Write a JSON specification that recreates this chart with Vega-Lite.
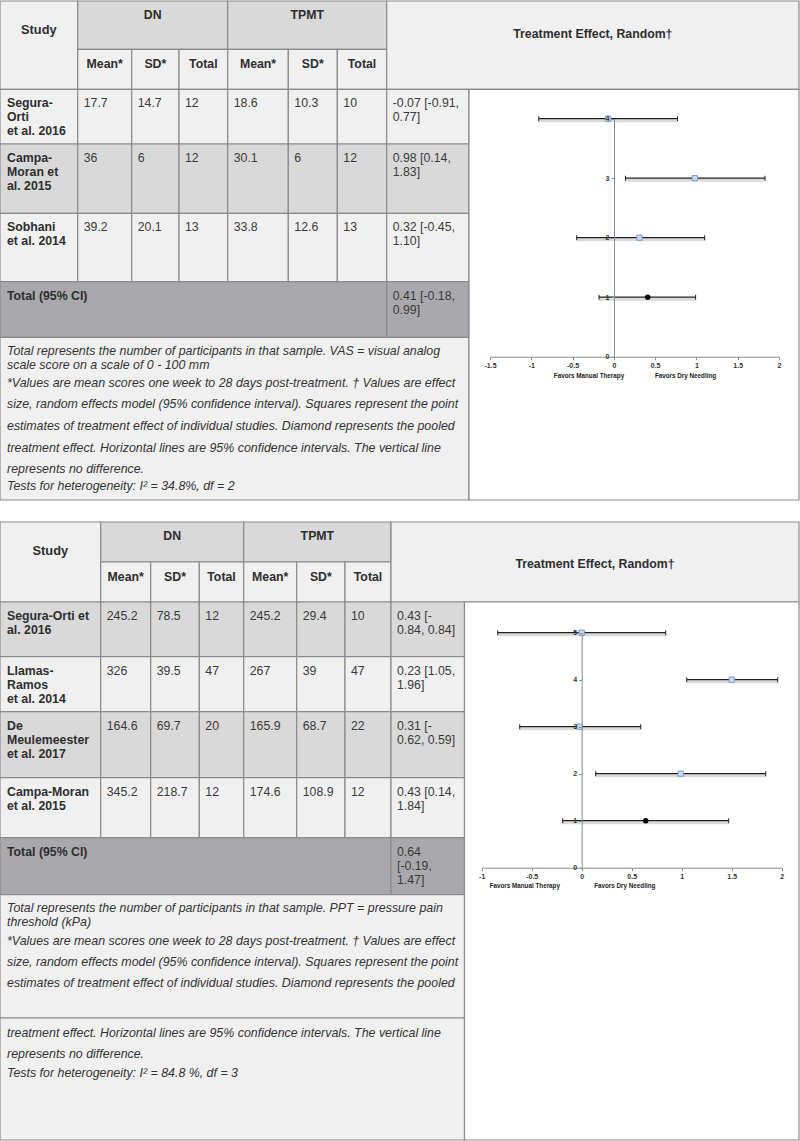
{
  "$schema": "https://vega.github.io/schema/vega-lite/v6.json",
  "width": 800,
  "height": 1141,
  "autosize": "none",
  "padding": 0,
  "background": "#ffffff",
  "config": {"view": {"stroke": null}, "font": "Liberation Sans", "text": {"font": "Liberation Sans", "fontSize": 12, "color": "#333333"}},
  "datasets": {
    "cells": [
      {"c0":0,"c1":1,"r0":0,"r1":2,"k":"light"},
      {"c0":1,"c1":4,"r0":0,"r1":1,"k":"mid"},
      {"c0":4,"c1":7,"r0":0,"r1":1,"k":"mid"},
      {"c0":1,"c1":2,"r0":1,"r1":2,"k":"light"},
      {"c0":2,"c1":3,"r0":1,"r1":2,"k":"light"},
      {"c0":3,"c1":4,"r0":1,"r1":2,"k":"light"},
      {"c0":4,"c1":5,"r0":1,"r1":2,"k":"light"},
      {"c0":5,"c1":6,"r0":1,"r1":2,"k":"light"},
      {"c0":6,"c1":7,"r0":1,"r1":2,"k":"light"},
      {"c0":7,"c1":9,"r0":0,"r1":2,"k":"light"},
      {"c0":0,"c1":1,"r0":2,"r1":3,"k":"light"},
      {"c0":1,"c1":2,"r0":2,"r1":3,"k":"light"},
      {"c0":2,"c1":3,"r0":2,"r1":3,"k":"light"},
      {"c0":3,"c1":4,"r0":2,"r1":3,"k":"light"},
      {"c0":4,"c1":5,"r0":2,"r1":3,"k":"light"},
      {"c0":5,"c1":6,"r0":2,"r1":3,"k":"light"},
      {"c0":6,"c1":7,"r0":2,"r1":3,"k":"light"},
      {"c0":7,"c1":8,"r0":2,"r1":3,"k":"light"},
      {"c0":0,"c1":1,"r0":3,"r1":4,"k":"mid"},
      {"c0":1,"c1":2,"r0":3,"r1":4,"k":"mid"},
      {"c0":2,"c1":3,"r0":3,"r1":4,"k":"mid"},
      {"c0":3,"c1":4,"r0":3,"r1":4,"k":"mid"},
      {"c0":4,"c1":5,"r0":3,"r1":4,"k":"mid"},
      {"c0":5,"c1":6,"r0":3,"r1":4,"k":"mid"},
      {"c0":6,"c1":7,"r0":3,"r1":4,"k":"mid"},
      {"c0":7,"c1":8,"r0":3,"r1":4,"k":"mid"},
      {"c0":0,"c1":1,"r0":4,"r1":5,"k":"light"},
      {"c0":1,"c1":2,"r0":4,"r1":5,"k":"light"},
      {"c0":2,"c1":3,"r0":4,"r1":5,"k":"light"},
      {"c0":3,"c1":4,"r0":4,"r1":5,"k":"light"},
      {"c0":4,"c1":5,"r0":4,"r1":5,"k":"light"},
      {"c0":5,"c1":6,"r0":4,"r1":5,"k":"light"},
      {"c0":6,"c1":7,"r0":4,"r1":5,"k":"light"},
      {"c0":7,"c1":8,"r0":4,"r1":5,"k":"light"},
      {"c0":0,"c1":7,"r0":5,"r1":6,"k":"dark"},
      {"c0":7,"c1":8,"r0":5,"r1":6,"k":"dark"},
      {"c0":0,"c1":8,"r0":6,"r1":7,"k":"light"},
      {"c0":8,"c1":9,"r0":2,"r1":7,"k":"white"},
      {"c0":10,"c1":11,"r0":10,"r1":12,"k":"light"},
      {"c0":11,"c1":14,"r0":10,"r1":11,"k":"mid"},
      {"c0":14,"c1":17,"r0":10,"r1":11,"k":"mid"},
      {"c0":11,"c1":12,"r0":11,"r1":12,"k":"light"},
      {"c0":12,"c1":13,"r0":11,"r1":12,"k":"light"},
      {"c0":13,"c1":14,"r0":11,"r1":12,"k":"light"},
      {"c0":14,"c1":15,"r0":11,"r1":12,"k":"light"},
      {"c0":15,"c1":16,"r0":11,"r1":12,"k":"light"},
      {"c0":16,"c1":17,"r0":11,"r1":12,"k":"light"},
      {"c0":17,"c1":19,"r0":10,"r1":12,"k":"light"},
      {"c0":10,"c1":11,"r0":12,"r1":13,"k":"mid"},
      {"c0":11,"c1":12,"r0":12,"r1":13,"k":"mid"},
      {"c0":12,"c1":13,"r0":12,"r1":13,"k":"mid"},
      {"c0":13,"c1":14,"r0":12,"r1":13,"k":"mid"},
      {"c0":14,"c1":15,"r0":12,"r1":13,"k":"mid"},
      {"c0":15,"c1":16,"r0":12,"r1":13,"k":"mid"},
      {"c0":16,"c1":17,"r0":12,"r1":13,"k":"mid"},
      {"c0":17,"c1":18,"r0":12,"r1":13,"k":"mid"},
      {"c0":10,"c1":11,"r0":13,"r1":14,"k":"light"},
      {"c0":11,"c1":12,"r0":13,"r1":14,"k":"light"},
      {"c0":12,"c1":13,"r0":13,"r1":14,"k":"light"},
      {"c0":13,"c1":14,"r0":13,"r1":14,"k":"light"},
      {"c0":14,"c1":15,"r0":13,"r1":14,"k":"light"},
      {"c0":15,"c1":16,"r0":13,"r1":14,"k":"light"},
      {"c0":16,"c1":17,"r0":13,"r1":14,"k":"light"},
      {"c0":17,"c1":18,"r0":13,"r1":14,"k":"light"},
      {"c0":10,"c1":11,"r0":14,"r1":15,"k":"mid"},
      {"c0":11,"c1":12,"r0":14,"r1":15,"k":"mid"},
      {"c0":12,"c1":13,"r0":14,"r1":15,"k":"mid"},
      {"c0":13,"c1":14,"r0":14,"r1":15,"k":"mid"},
      {"c0":14,"c1":15,"r0":14,"r1":15,"k":"mid"},
      {"c0":15,"c1":16,"r0":14,"r1":15,"k":"mid"},
      {"c0":16,"c1":17,"r0":14,"r1":15,"k":"mid"},
      {"c0":17,"c1":18,"r0":14,"r1":15,"k":"mid"},
      {"c0":10,"c1":11,"r0":15,"r1":16,"k":"light"},
      {"c0":11,"c1":12,"r0":15,"r1":16,"k":"light"},
      {"c0":12,"c1":13,"r0":15,"r1":16,"k":"light"},
      {"c0":13,"c1":14,"r0":15,"r1":16,"k":"light"},
      {"c0":14,"c1":15,"r0":15,"r1":16,"k":"light"},
      {"c0":15,"c1":16,"r0":15,"r1":16,"k":"light"},
      {"c0":16,"c1":17,"r0":15,"r1":16,"k":"light"},
      {"c0":17,"c1":18,"r0":15,"r1":16,"k":"light"},
      {"c0":10,"c1":17,"r0":16,"r1":17,"k":"dark"},
      {"c0":17,"c1":18,"r0":16,"r1":17,"k":"dark"},
      {"c0":10,"c1":18,"r0":17,"r1":18,"k":"light"},
      {"c0":10,"c1":18,"r0":18,"r1":19,"k":"light"},
      {"c0":18,"c1":19,"r0":12,"r1":19,"k":"white"}
    ],
    "body": [
      {"t":"Segura-\nOrti\net al. 2016","c":0,"r":2,"role":"study"},
      {"t":"17.7","c":1,"r":2,"role":"value"},
      {"t":"14.7","c":2,"r":2,"role":"value"},
      {"t":"12","c":3,"r":2,"role":"value"},
      {"t":"18.6","c":4,"r":2,"role":"value"},
      {"t":"10.3","c":5,"r":2,"role":"value"},
      {"t":"10","c":6,"r":2,"role":"value"},
      {"t":"-0.07 [-0.91,\n0.77]","c":7,"r":2,"role":"value"},
      {"t":"Campa-\nMoran et\nal. 2015","c":0,"r":3,"role":"study"},
      {"t":"36","c":1,"r":3,"role":"value"},
      {"t":"6","c":2,"r":3,"role":"value"},
      {"t":"12","c":3,"r":3,"role":"value"},
      {"t":"30.1","c":4,"r":3,"role":"value"},
      {"t":"6","c":5,"r":3,"role":"value"},
      {"t":"12","c":6,"r":3,"role":"value"},
      {"t":"0.98 [0.14,\n1.83]","c":7,"r":3,"role":"value"},
      {"t":"Sobhani\net al. 2014","c":0,"r":4,"role":"study"},
      {"t":"39.2","c":1,"r":4,"role":"value"},
      {"t":"20.1","c":2,"r":4,"role":"value"},
      {"t":"13","c":3,"r":4,"role":"value"},
      {"t":"33.8","c":4,"r":4,"role":"value"},
      {"t":"12.6","c":5,"r":4,"role":"value"},
      {"t":"13","c":6,"r":4,"role":"value"},
      {"t":"0.32 [-0.45,\n1.10]","c":7,"r":4,"role":"value"},
      {"t":"Total (95% CI)","c":0,"r":5,"role":"study"},
      {"t":"0.41 [-0.18,\n0.99]","c":7,"r":5,"role":"value"},
      {"t":"Segura-Orti et\nal. 2016","c":10,"r":12,"role":"study"},
      {"t":"245.2","c":11,"r":12,"role":"value"},
      {"t":"78.5","c":12,"r":12,"role":"value"},
      {"t":"12","c":13,"r":12,"role":"value"},
      {"t":"245.2","c":14,"r":12,"role":"value"},
      {"t":"29.4","c":15,"r":12,"role":"value"},
      {"t":"10","c":16,"r":12,"role":"value"},
      {"t":"0.43 [-\n0.84, 0.84]","c":17,"r":12,"role":"value"},
      {"t":"Llamas-\nRamos\net al. 2014","c":10,"r":13,"role":"study"},
      {"t":"326","c":11,"r":13,"role":"value"},
      {"t":"39.5","c":12,"r":13,"role":"value"},
      {"t":"47","c":13,"r":13,"role":"value"},
      {"t":"267","c":14,"r":13,"role":"value"},
      {"t":"39","c":15,"r":13,"role":"value"},
      {"t":"47","c":16,"r":13,"role":"value"},
      {"t":"0.23 [1.05,\n1.96]","c":17,"r":13,"role":"value"},
      {"t":"De\nMeulemeester\net al. 2017","c":10,"r":14,"role":"study"},
      {"t":"164.6","c":11,"r":14,"role":"value"},
      {"t":"69.7","c":12,"r":14,"role":"value"},
      {"t":"20","c":13,"r":14,"role":"value"},
      {"t":"165.9","c":14,"r":14,"role":"value"},
      {"t":"68.7","c":15,"r":14,"role":"value"},
      {"t":"22","c":16,"r":14,"role":"value"},
      {"t":"0.31 [-\n0.62, 0.59]","c":17,"r":14,"role":"value"},
      {"t":"Campa-Moran\net al. 2015","c":10,"r":15,"role":"study"},
      {"t":"345.2","c":11,"r":15,"role":"value"},
      {"t":"218.7","c":12,"r":15,"role":"value"},
      {"t":"12","c":13,"r":15,"role":"value"},
      {"t":"174.6","c":14,"r":15,"role":"value"},
      {"t":"108.9","c":15,"r":15,"role":"value"},
      {"t":"12","c":16,"r":15,"role":"value"},
      {"t":"0.43 [0.14,\n1.84]","c":17,"r":15,"role":"value"},
      {"t":"Total (95% CI)","c":10,"r":16,"role":"study"},
      {"t":"0.64\n[-0.19,\n1.47]","c":17,"r":16,"role":"value"}
    ],
    "subs": [
      {"t":"Mean*","c":1,"r":1},{"t":"SD*","c":2,"r":1},{"t":"Total","c":3,"r":1},
      {"t":"Mean*","c":4,"r":1},{"t":"SD*","c":5,"r":1},{"t":"Total","c":6,"r":1},
      {"t":"Mean*","c":11,"r":11},{"t":"SD*","c":12,"r":11},{"t":"Total","c":13,"r":11},
      {"t":"Mean*","c":14,"r":11},{"t":"SD*","c":15,"r":11},{"t":"Total","c":16,"r":11}
    ],
    "heads": [
      {"t":"Study","hc":0,"r":0,"role":"corner"},
      {"t":"DN","hc":1,"r":0,"role":"group"},
      {"t":"TPMT","hc":2,"r":0,"role":"group"},
      {"t":"Treatment Effect, Random†","hc":3,"r":0,"role":"effectTop"},
      {"t":"Study","hc":10,"r":10,"role":"corner"},
      {"t":"DN","hc":11,"r":10,"role":"group"},
      {"t":"TPMT","hc":12,"r":10,"role":"group"},
      {"t":"Treatment Effect, Random†","hc":13,"r":10,"role":"effectBottom"}
    ],
    "notes": [
      {"t":"Total represents the number of participants in that sample. VAS = visual analog","c":0,"ln":0},
      {"t":"scale score on a scale of 0 - 100 mm","c":0,"ln":1},
      {"t":"*Values are mean scores one week to 28 days post-treatment. † Values are effect","c":0,"ln":2},
      {"t":"size, random effects model (95% confidence interval). Squares represent the point","c":0,"ln":3},
      {"t":"estimates of treatment effect of individual studies. Diamond represents the pooled","c":0,"ln":4},
      {"t":"treatment effect. Horizontal lines are 95% confidence intervals. The vertical line","c":0,"ln":5},
      {"t":"represents no difference.","c":0,"ln":6},
      {"t":"Tests for heterogeneity: I² = 34.8%, df = 2","c":0,"ln":7},
      {"t":"Total represents the number of participants in that sample. PPT = pressure pain","c":10,"ln":10},
      {"t":"threshold (kPa)","c":10,"ln":11},
      {"t":"*Values are mean scores one week to 28 days post-treatment. † Values are effect","c":10,"ln":12},
      {"t":"size, random effects model (95% confidence interval). Squares represent the point","c":10,"ln":13},
      {"t":"estimates of treatment effect of individual studies. Diamond represents the pooled","c":10,"ln":14},
      {"t":"treatment effect. Horizontal lines are 95% confidence intervals. The vertical line","c":10,"ln":15},
      {"t":"represents no difference.","c":10,"ln":16},
      {"t":"Tests for heterogeneity: I² = 84.8 %, df = 3","c":10,"ln":17}
    ],
    "forestTop": [
      {"study":"Segura-Orti et al. 2016","pos":4,"es":-0.07,"lo":-0.91,"hi":0.77,"kind":"study"},
      {"study":"Campa-Moran et al. 2015","pos":3,"es":0.98,"lo":0.14,"hi":1.83,"kind":"study"},
      {"study":"Sobhani et al. 2014","pos":2,"es":0.31,"lo":-0.45,"hi":1.10,"kind":"study"},
      {"study":"Total (95% CI)","pos":1,"es":0.41,"lo":-0.18,"hi":0.99,"kind":"pooled"}
    ],
    "forestBottom": [
      {"study":"Segura-Orti et al. 2016","pos":5,"es":0.0,"lo":-0.84,"hi":0.84,"kind":"study"},
      {"study":"Llamas-Ramos et al. 2014","pos":4,"es":1.5,"lo":1.05,"hi":1.96,"kind":"study"},
      {"study":"De Meulemeester et al. 2017","pos":3,"es":-0.02,"lo":-0.62,"hi":0.59,"kind":"study"},
      {"study":"Campa-Moran et al. 2015","pos":2,"es":0.99,"lo":0.14,"hi":1.84,"kind":"study"},
      {"study":"Total (95% CI)","pos":1,"es":0.64,"lo":-0.19,"hi":1.47,"kind":"pooled"}
    ]
  },
  "layer": [
    {
      "layer": [
        {
          "data": {"name": "cells"},
          "mark": {"type": "rect", "stroke": "#8a8a8a", "strokeWidth": 1.2},
          "encoding": {
            "x": {"field": "c0", "type": "quantitative", "axis": null, "scale": {"type": "linear", "nice": false, "zero": false, "domain": [0,1,2,3,4,5,6,7,8,9,10,11,12,13,14,15,16,17,18,19], "range": [0,77.7,131.7,179,227.7,288.3,337.3,386.7,469,799,0,100.7,150.7,199.3,243.7,296.7,345,391,464.5,799]}},
            "x2": {"field": "c1"},
            "y": {"field": "r0", "type": "quantitative", "axis": null, "scale": {"type": "linear", "nice": false, "zero": false, "domain": [0,1,2,3,4,5,6,7,10,11,12,13,14,15,16,17,18,19], "range": [1,49.3,89.3,144,213.3,281.7,337.3,500,522,562,602,656.7,711.7,777.7,837.7,894.7,1018,1140]}},
            "y2": {"field": "r1"},
            "fill": {"field": "k", "type": "nominal", "legend": null, "scale": {"domain": ["light","mid","dark","white"], "range": ["#f0f0f0","#d9d9d9","#a9a9ad","#ffffff"]}}
          }
        },
        {
          "data": {"name": "body"},
          "transform": [{"filter": "datum.role == 'study'"}],
          "mark": {"type": "text", "align": "left", "baseline": "alphabetic", "dx": 7, "dy": 18, "fontWeight": "bold", "lineBreak": "\n", "lineHeight": 14, "fontSize": 12.3, "color": "#2e2e2e"},
          "encoding": {
            "x": {"field": "c", "type": "quantitative", "axis": null, "scale": {"type": "linear", "nice": false, "zero": false, "domain": [0,1,2,3,4,5,6,7,8,9,10,11,12,13,14,15,16,17,18,19], "range": [0,77.7,131.7,179,227.7,288.3,337.3,386.7,469,799,0,100.7,150.7,199.3,243.7,296.7,345,391,464.5,799]}},
            "y": {"field": "r", "type": "quantitative", "axis": null, "scale": {"type": "linear", "nice": false, "zero": false, "domain": [0,1,2,3,4,5,6,7,10,11,12,13,14,15,16,17,18,19], "range": [1,49.3,89.3,144,213.3,281.7,337.3,500,522,562,602,656.7,711.7,777.7,837.7,894.7,1018,1140]}},
            "text": {"field": "t"}
          }
        },
        {
          "data": {"name": "body"},
          "transform": [{"filter": "datum.role == 'value'"}],
          "mark": {"type": "text", "align": "left", "baseline": "alphabetic", "dx": 6, "dy": 18, "lineBreak": "\n", "lineHeight": 14, "fontSize": 12.3, "color": "#3a3a3a"},
          "encoding": {
            "x": {"field": "c", "type": "quantitative", "axis": null, "scale": {"type": "linear", "nice": false, "zero": false, "domain": [0,1,2,3,4,5,6,7,8,9,10,11,12,13,14,15,16,17,18,19], "range": [0,77.7,131.7,179,227.7,288.3,337.3,386.7,469,799,0,100.7,150.7,199.3,243.7,296.7,345,391,464.5,799]}},
            "y": {"field": "r", "type": "quantitative", "axis": null, "scale": {"type": "linear", "nice": false, "zero": false, "domain": [0,1,2,3,4,5,6,7,10,11,12,13,14,15,16,17,18,19], "range": [1,49.3,89.3,144,213.3,281.7,337.3,500,522,562,602,656.7,711.7,777.7,837.7,894.7,1018,1140]}},
            "text": {"field": "t"}
          }
        },
        {
          "data": {"name": "subs"},
          "transform": [{"calculate": "datum.c + 0.5", "as": "mid"}],
          "mark": {"type": "text", "align": "center", "baseline": "alphabetic", "dy": 18.5, "fontWeight": "bold", "fontSize": 12.3, "color": "#2e2e2e"},
          "encoding": {
            "x": {"field": "mid", "type": "quantitative", "axis": null, "scale": {"type": "linear", "nice": false, "zero": false, "domain": [0,1,2,3,4,5,6,7,8,9,10,11,12,13,14,15,16,17,18,19], "range": [0,77.7,131.7,179,227.7,288.3,337.3,386.7,469,799,0,100.7,150.7,199.3,243.7,296.7,345,391,464.5,799]}},
            "y": {"field": "r", "type": "quantitative", "axis": null, "scale": {"type": "linear", "nice": false, "zero": false, "domain": [0,1,2,3,4,5,6,7,10,11,12,13,14,15,16,17,18,19], "range": [1,49.3,89.3,144,213.3,281.7,337.3,500,522,562,602,656.7,711.7,777.7,837.7,894.7,1018,1140]}},
            "text": {"field": "t"}
          }
        }
      ]
    },
    {
      "data": {"name": "heads"},
      "transform": [{"calculate": "datum.hc + 0.5", "as": "mid"}],
      "layer": [
        {
          "transform": [{"filter": "datum.role == 'group'"}],
          "mark": {"type": "text", "align": "center", "baseline": "alphabetic", "dy": 18.3, "fontWeight": "bold", "fontSize": 12.3, "color": "#2e2e2e"},
          "encoding": {
            "x": {"field": "mid", "type": "quantitative", "axis": null, "scale": {"type": "linear", "nice": false, "zero": false, "domain": [0,1,2,3,4,10,11,12,13,14], "range": [0,77.7,227.7,386.7,799,0,100.7,243.7,391,799]}},
            "y": {"field": "r", "type": "quantitative", "axis": null, "scale": {"type": "linear", "nice": false, "zero": false, "domain": [0,1,2,3,4,5,6,7,10,11,12,13,14,15,16,17,18,19], "range": [1,49.3,89.3,144,213.3,281.7,337.3,500,522,562,602,656.7,711.7,777.7,837.7,894.7,1018,1140]}},
            "text": {"field": "t"}
          }
        },
        {
          "transform": [{"filter": "datum.role == 'corner'"}],
          "mark": {"type": "text", "align": "center", "baseline": "alphabetic", "dy": 33, "fontWeight": "bold", "fontSize": 12.8, "color": "#2e2e2e"},
          "encoding": {
            "x": {"field": "mid", "type": "quantitative", "axis": null, "scale": {"type": "linear", "nice": false, "zero": false, "domain": [0,1,2,3,4,10,11,12,13,14], "range": [0,77.7,227.7,386.7,799,0,100.7,243.7,391,799]}},
            "y": {"field": "r", "type": "quantitative", "axis": null, "scale": {"type": "linear", "nice": false, "zero": false, "domain": [0,1,2,3,4,5,6,7,10,11,12,13,14,15,16,17,18,19], "range": [1,49.3,89.3,144,213.3,281.7,337.3,500,522,562,602,656.7,711.7,777.7,837.7,894.7,1018,1140]}},
            "text": {"field": "t"}
          }
        },
        {
          "transform": [{"filter": "datum.role == 'effectTop'"}],
          "mark": {"type": "text", "align": "center", "baseline": "alphabetic", "dy": 36.5, "fontWeight": "bold", "fontSize": 12.3, "color": "#2e2e2e"},
          "encoding": {
            "x": {"field": "mid", "type": "quantitative", "axis": null, "scale": {"type": "linear", "nice": false, "zero": false, "domain": [0,1,2,3,4,10,11,12,13,14], "range": [0,77.7,227.7,386.7,799,0,100.7,243.7,391,799]}},
            "y": {"field": "r", "type": "quantitative", "axis": null, "scale": {"type": "linear", "nice": false, "zero": false, "domain": [0,1,2,3,4,5,6,7,10,11,12,13,14,15,16,17,18,19], "range": [1,49.3,89.3,144,213.3,281.7,337.3,500,522,562,602,656.7,711.7,777.7,837.7,894.7,1018,1140]}},
            "text": {"field": "t"}
          }
        },
        {
          "transform": [{"filter": "datum.role == 'effectBottom'"}],
          "mark": {"type": "text", "align": "center", "baseline": "alphabetic", "dy": 46, "fontWeight": "bold", "fontSize": 12.3, "color": "#2e2e2e"},
          "encoding": {
            "x": {"field": "mid", "type": "quantitative", "axis": null, "scale": {"type": "linear", "nice": false, "zero": false, "domain": [0,1,2,3,4,10,11,12,13,14], "range": [0,77.7,227.7,386.7,799,0,100.7,243.7,391,799]}},
            "y": {"field": "r", "type": "quantitative", "axis": null, "scale": {"type": "linear", "nice": false, "zero": false, "domain": [0,1,2,3,4,5,6,7,10,11,12,13,14,15,16,17,18,19], "range": [1,49.3,89.3,144,213.3,281.7,337.3,500,522,562,602,656.7,711.7,777.7,837.7,894.7,1018,1140]}},
            "text": {"field": "t"}
          }
        }
      ]
    },
    {
      "data": {"name": "notes"},
      "mark": {"type": "text", "align": "left", "baseline": "middle", "dx": 7, "fontStyle": "italic", "fontSize": 12.4, "color": "#333333"},
      "encoding": {
        "x": {"field": "c", "type": "quantitative", "axis": null, "scale": {"type": "linear", "nice": false, "zero": false, "domain": [0,1,2,3,4,5,6,7,8,9,10,11,12,13,14,15,16,17,18,19], "range": [0,77.7,131.7,179,227.7,288.3,337.3,386.7,469,799,0,100.7,150.7,199.3,243.7,296.7,345,391,464.5,799]}},
        "y": {"field": "ln", "type": "quantitative", "axis": null, "scale": {"type": "linear", "nice": false, "zero": false, "domain": [0,1,2,3,4,5,6,7,10,11,12,13,14,15,16,17], "range": [350.7,365,383,404,426,447.7,469,485.7,908.3,922.3,940.7,961.7,983.3,1033.3,1054.3,1072.7]}},
        "text": {"field": "t"}
      }
    },
    {
      "data": {"name": "forestTop"},
      "layer": [
        {
          "mark": {"type": "rule", "color": "#dadada", "strokeWidth": 3, "yOffset": 2},
          "encoding": {
            "x": {"field": "lo", "type": "quantitative", "axis": null, "scale": {"domain": [-1.5, 2], "range": [490, 779], "nice": false, "zero": false}},
            "x2": {"field": "hi"},
            "y": {"field": "pos", "type": "quantitative", "scale": {"domain": [0, 4], "range": [356.7, 118.7], "nice": false, "zero": false},
              "axis": {"orient": "left", "offset": -614, "zindex": 1, "values": [0,1,2,3,4], "labelExpr": "'' + datum.value", "grid": false, "domainColor": "#8c8c8c", "tickColor": "#8c8c8c", "tickSize": 3, "labelFontSize": 7, "labelFontWeight": "bold", "labelColor": "#333333", "labelPadding": 2, "labelFlush": false, "labelOverlap": false, "labelBound": false, "title": null}}
          }
        },
        {
          "mark": {"type": "rule", "color": "#1e1e1e", "strokeWidth": 1.2},
          "encoding": {
            "x": {"field": "lo", "type": "quantitative", "scale": {"domain": [-1.5, 2], "range": [490, 779], "nice": false, "zero": false},
              "axis": {"orient": "bottom", "offset": -784.3, "zindex": 1, "values": [-1.5,-1,-0.5,0,0.5,1,1.5,2], "labelExpr": "'' + datum.value", "grid": false, "domainColor": "#8c8c8c", "tickColor": "#8c8c8c", "tickSize": 3, "labelFontSize": 7, "labelFontWeight": "bold", "labelColor": "#333333", "labelPadding": 2, "labelFlush": false, "labelOverlap": false, "labelBound": false, "title": "Favors Manual Therapy", "titleFontSize": 6.3, "titleFontWeight": "bold", "titleColor": "#222222", "titleX": 588.5, "titleY": 19, "titleBaseline": "middle", "titleAlign": "center"}},
            "x2": {"field": "hi"},
            "y": {"field": "pos", "type": "quantitative", "scale": {"domain": [0, 4], "range": [356.7, 118.7], "nice": false, "zero": false}}
          }
        },
        {
          "transform": [{"fold": ["lo", "hi"], "as": ["end", "xv"]}],
          "mark": {"type": "tick", "orient": "vertical", "size": 5, "thickness": 1, "color": "#1e1e1e", "opacity": 1},
          "encoding": {
            "x": {"field": "xv", "type": "quantitative", "axis": null, "scale": {"domain": [-1.5, 2], "range": [490, 779], "nice": false, "zero": false}},
            "y": {"field": "pos", "type": "quantitative", "scale": {"domain": [0, 4], "range": [356.7, 118.7], "nice": false, "zero": false}}
          }
        },
        {
          "transform": [{"filter": "datum.kind == 'study'"}],
          "mark": {"type": "point", "shape": "square", "filled": true, "fill": "#c9d9ef", "stroke": "#7b9bcc", "strokeWidth": 1, "size": 28, "opacity": 1},
          "encoding": {
            "x": {"field": "es", "type": "quantitative", "scale": {"domain": [-1.5, 2], "range": [490, 779], "nice": false, "zero": false},
              "axis": {"orient": "bottom", "offset": -784.3, "zindex": 1, "domain": false, "ticks": false, "labels": false, "grid": false, "title": "Favors Dry Needling", "titleFontSize": 6.3, "titleFontWeight": "bold", "titleColor": "#222222", "titleX": 685, "titleY": 19, "titleBaseline": "middle", "titleAlign": "center"}},
            "y": {"field": "pos", "type": "quantitative", "scale": {"domain": [0, 4], "range": [356.7, 118.7], "nice": false, "zero": false}}
          }
        },
        {
          "transform": [{"filter": "datum.kind == 'pooled'"}],
          "mark": {"type": "point", "shape": "circle", "filled": true, "color": "#000000", "size": 30, "opacity": 1},
          "encoding": {
            "x": {"field": "es", "type": "quantitative", "axis": null, "scale": {"domain": [-1.5, 2], "range": [490, 779], "nice": false, "zero": false}},
            "y": {"field": "pos", "type": "quantitative", "scale": {"domain": [0, 4], "range": [356.7, 118.7], "nice": false, "zero": false}}
          }
        }
      ],
      "resolve": {"axis": {"x": "independent"}}
    },
    {
      "data": {"name": "forestBottom"},
      "layer": [
        {
          "mark": {"type": "rule", "color": "#dadada", "strokeWidth": 3, "yOffset": 2},
          "encoding": {
            "x": {"field": "lo", "type": "quantitative", "axis": null, "scale": {"domain": [-1, 2], "range": [481.7, 781.7], "nice": false, "zero": false}},
            "x2": {"field": "hi"},
            "y": {"field": "pos", "type": "quantitative", "scale": {"domain": [0, 5], "range": [867.7, 632.7], "nice": false, "zero": false},
              "axis": {"orient": "left", "offset": -581.7, "zindex": 1, "values": [0,1,2,3,4,5], "labelExpr": "'' + datum.value", "grid": false, "domainColor": "#8c8c8c", "tickColor": "#8c8c8c", "tickSize": 3, "labelFontSize": 7, "labelFontWeight": "bold", "labelColor": "#333333", "labelPadding": 2, "labelFlush": false, "labelOverlap": false, "labelBound": false, "title": null}}
          }
        },
        {
          "mark": {"type": "rule", "color": "#1e1e1e", "strokeWidth": 1.2},
          "encoding": {
            "x": {"field": "lo", "type": "quantitative", "scale": {"domain": [-1, 2], "range": [481.7, 781.7], "nice": false, "zero": false},
              "axis": {"orient": "bottom", "offset": -273.3, "zindex": 1, "values": [-1,-0.5,0,0.5,1,1.5,2], "labelExpr": "'' + datum.value", "grid": false, "domainColor": "#8c8c8c", "tickColor": "#8c8c8c", "tickSize": 3, "labelFontSize": 7, "labelFontWeight": "bold", "labelColor": "#333333", "labelPadding": 2, "labelFlush": false, "labelOverlap": false, "labelBound": false, "title": "Favors Manual Therapy", "titleFontSize": 6.3, "titleFontWeight": "bold", "titleColor": "#222222", "titleX": 524.3, "titleY": 17.3, "titleBaseline": "middle", "titleAlign": "center"}},
            "x2": {"field": "hi"},
            "y": {"field": "pos", "type": "quantitative", "scale": {"domain": [0, 5], "range": [867.7, 632.7], "nice": false, "zero": false}}
          }
        },
        {
          "transform": [{"fold": ["lo", "hi"], "as": ["end", "xv"]}],
          "mark": {"type": "tick", "orient": "vertical", "size": 5, "thickness": 1, "color": "#1e1e1e", "opacity": 1},
          "encoding": {
            "x": {"field": "xv", "type": "quantitative", "axis": null, "scale": {"domain": [-1, 2], "range": [481.7, 781.7], "nice": false, "zero": false}},
            "y": {"field": "pos", "type": "quantitative", "scale": {"domain": [0, 5], "range": [867.7, 632.7], "nice": false, "zero": false}}
          }
        },
        {
          "transform": [{"filter": "datum.kind == 'study'"}],
          "mark": {"type": "point", "shape": "square", "filled": true, "fill": "#c9d9ef", "stroke": "#7b9bcc", "strokeWidth": 1, "size": 28, "opacity": 1},
          "encoding": {
            "x": {"field": "es", "type": "quantitative", "scale": {"domain": [-1, 2], "range": [481.7, 781.7], "nice": false, "zero": false},
              "axis": {"orient": "bottom", "offset": -273.3, "zindex": 1, "domain": false, "ticks": false, "labels": false, "grid": false, "title": "Favors Dry Needling", "titleFontSize": 6.3, "titleFontWeight": "bold", "titleColor": "#222222", "titleX": 624.3, "titleY": 17.3, "titleBaseline": "middle", "titleAlign": "center"}},
            "y": {"field": "pos", "type": "quantitative", "scale": {"domain": [0, 5], "range": [867.7, 632.7], "nice": false, "zero": false}}
          }
        },
        {
          "transform": [{"filter": "datum.kind == 'pooled'"}],
          "mark": {"type": "point", "shape": "circle", "filled": true, "color": "#000000", "size": 30, "opacity": 1},
          "encoding": {
            "x": {"field": "es", "type": "quantitative", "axis": null, "scale": {"domain": [-1, 2], "range": [481.7, 781.7], "nice": false, "zero": false}},
            "y": {"field": "pos", "type": "quantitative", "scale": {"domain": [0, 5], "range": [867.7, 632.7], "nice": false, "zero": false}}
          }
        }
      ],
      "resolve": {"axis": {"x": "independent"}}
    }
  ],
  "resolve": {"scale": {"x": "independent", "y": "independent"}}
}
